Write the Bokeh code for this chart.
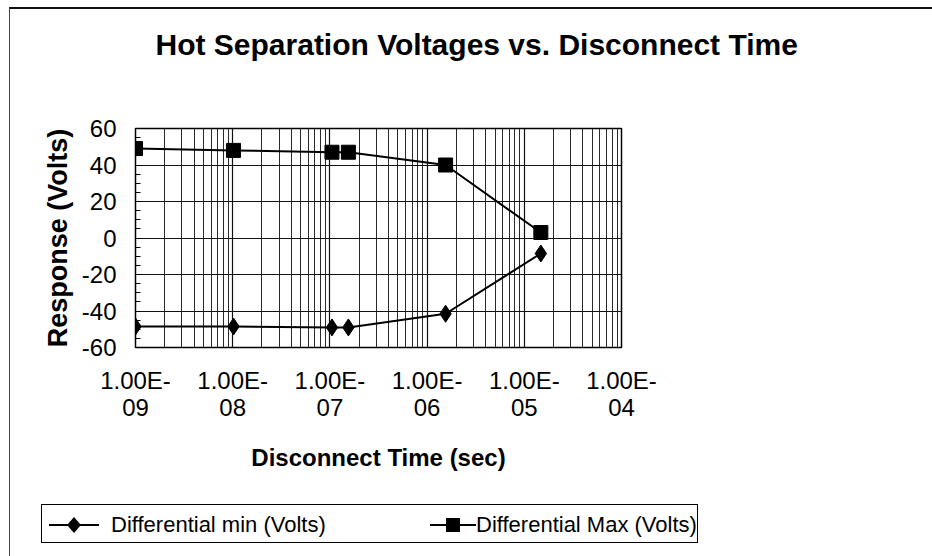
from bokeh.plotting import figure
from bokeh.layouts import column
from bokeh.models import FixedTicker, Range1d, Title, Div
from bokeh.embed import file_html
from bokeh.resources import INLINE

# ---- data ----
times = [1.0e-9, 1.02e-8, 1.05e-7, 1.55e-7, 1.55e-6, 1.48e-5]
diff_min = [-48.5, -48.5, -49.0, -49.0, -41.5, -8.5]
diff_max = [49.0, 48.0, 47.0, 47.0, 40.0, 3.0]

x_ticks = [1e-9, 1e-8, 1e-7, 1e-6, 1e-5, 1e-4]
x_tick_labels = ["1.00E-\n09", "1.00E-\n08", "1.00E-\n07", "1.00E-\n06", "1.00E-\n05", "1.00E-\n04"]
y_ticks = [-60, -40, -20, 0, 20, 40, 60]
y_tick_labels = ["-60", "-40", "-20", "0", "20", "40", "60"]
y_minor = list(range(-60, 61, 5))
x_minor = [m * d for d in x_ticks[:-1] for m in range(2, 10)]

series_names = ["Differential min (Volts)", "Differential Max (Volts)"]

FONT = "Liberation Sans"

p = figure(
    width=918, height=487,
    x_axis_type="log",
    x_range=Range1d(1e-9, 1e-4), y_range=Range1d(-60, 60),
    output_backend="svg", toolbar_location=None,
    min_border_left=125, min_border_right=307,
    min_border_top=119, min_border_bottom=149,
)
p.outline_line_color = "black"
p.outline_line_width = 1.5

# title (a blank spacer title keeps it up near the top of the page)
p.add_layout(Title(text=" ", text_font_size="2px", standoff=59), "above")
p.title.text = "Hot Separation Voltages vs. Disconnect Time"
p.title.text_font = FONT
p.title.text_font_style = "bold"
p.title.text_font_size = "30px"
p.title.text_color = "black"
p.title.align = "left"
p.title.offset = 20
p.title.standoff = 10

# series
p.line(times, diff_min, line_color="black", line_width=2)
p.scatter(times, diff_min, marker="diamond", size=17, fill_color="black", line_color="black")
p.line(times, diff_max, line_color="black", line_width=2)
p.scatter(times, diff_max, marker="square", size=14, fill_color="black", line_color="black")

# x axis
p.xaxis.ticker = FixedTicker(ticks=x_ticks, minor_ticks=x_minor)
p.xaxis.major_label_overrides = {t: lab for t, lab in zip(x_ticks, x_tick_labels)}
p.xaxis.major_tick_out = 0
p.xaxis.major_tick_in = 0
p.xaxis.minor_tick_out = 0
p.xaxis.minor_tick_in = 0
p.xaxis.axis_line_color = "black"
p.xaxis.major_label_text_font = FONT
p.xaxis.major_label_text_font_size = "24px"
p.xaxis.major_label_text_line_height = 1.0
p.xaxis.major_label_text_color = "black"
p.xaxis.major_label_standoff = 19
p.xaxis.axis_label = "Disconnect Time (sec)"
p.xaxis.axis_label_text_font = FONT
p.xaxis.axis_label_text_font_style = "bold"
p.xaxis.axis_label_text_font_size = "24px"
p.xaxis.axis_label_text_color = "black"
p.xaxis.axis_label_standoff = 20

# y axis
p.yaxis.ticker = FixedTicker(ticks=y_ticks, minor_ticks=y_minor)
p.yaxis.major_label_overrides = {t: lab for t, lab in zip(y_ticks, y_tick_labels)}
p.yaxis.major_tick_out = 0
p.yaxis.major_tick_in = 0
p.yaxis.minor_tick_out = 0
p.yaxis.minor_tick_in = 5
p.yaxis.minor_tick_line_color = "black"
p.yaxis.axis_line_color = "black"
p.yaxis.major_label_text_font = FONT
p.yaxis.major_label_text_font_size = "24px"
p.yaxis.major_label_text_color = "black"
p.yaxis.major_label_standoff = 19
p.yaxis.axis_label = "Response (Volts)"
p.yaxis.axis_label_text_font = FONT
p.yaxis.axis_label_text_font_style = "bold"
p.yaxis.axis_label_text_font_size = "27px"
p.yaxis.axis_label_text_color = "black"
p.yaxis.axis_label_standoff = 6

# grid
p.xgrid.grid_line_color = "#111111"
p.xgrid.minor_grid_line_color = "#2a2a2a"
p.xgrid.grid_line_width = 1.2
p.ygrid.grid_line_color = "#111111"
p.ygrid.grid_line_width = 1.2

# ---- legend box below the chart ----
icon_min = ('<svg width="50" height="22" style="position:absolute;left:7px;top:9px">'
            '<line x1="0" y1="11" x2="50" y2="11" stroke="black" stroke-width="2"/>'
            '<polygon points="25,3 32,11 25,19 18,11" fill="black"/></svg>')
icon_max = ('<svg width="46" height="22" style="position:absolute;left:388px;top:9px">'
            '<line x1="0" y1="11" x2="46" y2="11" stroke="black" stroke-width="2"/>'
            '<rect x="16" y="4" width="14" height="14" fill="black"/></svg>')
label_style = ("position:absolute;top:7px;font-family:'Liberation Sans';"
               "font-size:22px;color:#000;white-space:nowrap;line-height:26px")
legend_html = (
    '<div style="position:relative;margin:3px 0 0 26px;width:657px;height:39px;'
    'border:1px solid #000;background:#fff">'
    + icon_min
    + f'<span style="{label_style};left:69px">{series_names[0]}</span>'
    + icon_max
    + f'<span style="{label_style};left:434px">{series_names[1]}</span>'
    + '</div>'
)
legend_div = Div(text=legend_html, width=918, height=58)

page = column(p, legend_div, spacing=0,
              styles={"border-left": "1px solid #444", "border-top": "2px solid #111",
                      "margin-left": "9px", "margin-top": "7px"})

open("out.html", "w").write(file_html(page, INLINE))
